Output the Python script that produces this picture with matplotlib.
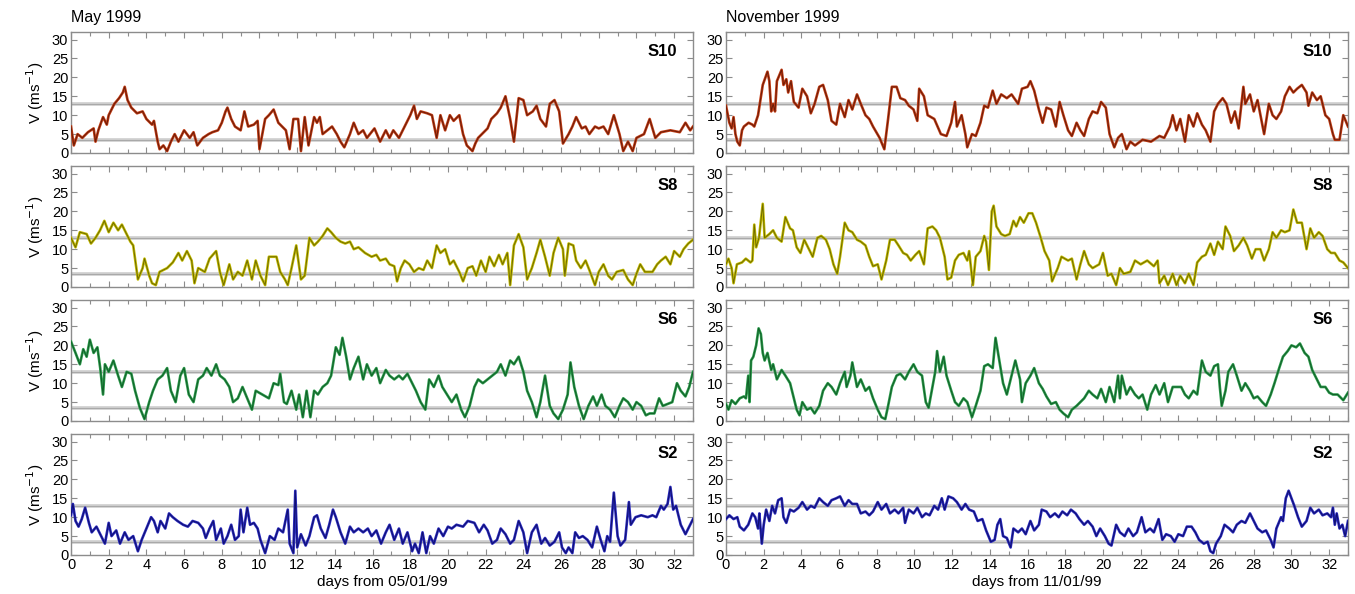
#!/usr/bin/env python3
"""Wind speed at four stations (S10, S8, S6, S2) for May and November 1999."""
import matplotlib
matplotlib.use("Agg")
import matplotlib.pyplot as plt
from matplotlib.ticker import MultipleLocator

plt.rcParams["font.family"] = ["Liberation Sans", "DejaVu Sans"]

MONTHS = ["May 1999", "November 1999"]
XLABELS = ["days from 05/01/99", "days from 11/01/99"]
STATIONS = ["S10", "S8", "S6", "S2"]
# (edge colour, darker core colour) per station
COLORS = [("#c23c14", "#6a1c08"), ("#c4bc00", "#6e6a00"),
          ("#2b9c4c", "#125e28"), ("#2a2ac0", "#10106e")]
REF_LEVELS = [3.5, 13.0]

# ---- May 1999 ---------------------------------------------------------------
may_s10_day = [0, 0.15, 0.35, 0.6, 0.9, 1.2, 1.3, 1.45, 1.7, 1.9, 2.0, 2.3, 2.55, 2.75, 2.85,
               3.0, 3.2, 3.5, 3.8, 4.0, 4.3, 4.4, 4.6, 4.7, 4.9, 5.1, 5.3, 5.5, 5.7, 6.0,
               6.3, 6.5, 6.7, 7.0, 7.3, 7.5, 7.8, 8.0, 8.2, 8.3, 8.5, 8.7, 9.0, 9.2, 9.4,
               9.7, 9.9, 10.0, 10.3, 10.5, 10.75, 11.0, 11.2, 11.4, 11.6, 11.8, 12.05, 12.2,
               12.4, 12.6, 12.9, 13.05, 13.2, 13.35, 13.6, 13.85, 14.1, 14.3, 14.5, 14.8,
               15.0, 15.25, 15.5, 15.7, 16.1, 16.4, 16.7, 16.9, 17.1, 17.4, 17.7, 18.0,
               18.2, 18.35, 18.55, 18.9, 19.15, 19.4, 19.6, 19.85, 20.1, 20.3, 20.6, 20.8,
               21.0, 21.3, 21.45, 21.6, 21.9, 22.1, 22.3, 22.6, 22.8, 23.05, 23.3, 23.5,
               23.75, 24.0, 24.2, 24.5, 24.7, 24.9, 25.2, 25.4, 25.65, 25.9, 26.1, 26.4,
               26.6, 26.8, 27.1, 27.3, 27.5, 27.8, 28.0, 28.25, 28.5, 28.8, 29.1, 29.3,
               29.55, 29.8, 30.0, 30.4, 30.7, 31.0, 31.3, 31.8, 32.3, 32.6, 32.85, 33.0]
may_s10_v = [7, 2, 5, 4, 5.5, 6.5, 3, 6, 9.5, 7.5, 10, 13, 14.5, 16, 17.5,
             14, 12, 10.5, 11, 9, 7.5, 8.5, 3, 1, 2, 0.5, 3, 5, 3, 6,
             4, 5.5, 2, 4, 5, 5.5, 6, 8, 11, 12, 9, 7, 6, 11, 7,
             7.5, 8.5, 1, 9, 10, 11.5, 8, 7, 6, 1, 9, 9, 0.5,
             9.5, 2, 9.5, 8, 9.5, 5, 6, 7, 5, 3, 1.5, 5,
             8, 5, 6, 4, 6.5, 3, 6, 4, 6, 4, 7, 10,
             12.5, 9, 11, 10.5, 10, 4, 10, 6, 10, 8.5, 10, 5,
             2, 0.5, 2.5, 4, 5.5, 6.5, 9, 10.5, 12, 15, 9, 3,
             14.5, 14, 10, 11, 12.5, 9, 7, 13, 14, 11, 2.5, 5,
             7, 9.5, 6.5, 7, 5, 7, 6.5, 7, 5, 10, 5, 0.5,
             3, 0.5, 4, 5, 9, 4, 5.5, 6, 5.5, 8, 6, 7]

may_s8_day = [0, 0.24, 0.47, 0.83, 1.06, 1.3, 1.54, 1.77, 2.0, 2.25, 2.5, 2.7, 2.95, 3.15,
              3.3, 3.55, 3.8, 3.9, 4.15, 4.3, 4.5, 4.7, 5.1, 5.4, 5.7, 5.9, 6.15, 6.4,
              6.55, 6.75, 7.1, 7.35, 7.7, 7.9, 8.1, 8.4, 8.6, 8.85, 9.1, 9.35, 9.6, 9.8,
              10.05, 10.3, 10.5, 10.9, 11.1, 11.35, 11.5, 11.7, 11.95, 12.2, 12.4, 12.65,
              12.9, 13.1, 13.35, 13.6, 13.8, 14.05, 14.3, 14.55, 14.8, 15.0, 15.25, 15.6,
              15.95, 16.2, 16.4, 16.7, 16.9, 17.15, 17.3, 17.5, 17.7, 17.95, 18.2, 18.45,
              18.7, 18.9, 19.15, 19.4, 19.6, 19.85, 20.1, 20.3, 20.6, 20.8, 21.05, 21.3,
              21.5, 21.75, 22.0, 22.2, 22.45, 22.7, 22.9, 23.15, 23.3, 23.5, 23.75, 24.0,
              24.2, 24.45, 24.7, 24.9, 25.15, 25.4, 25.6, 25.85, 26.1, 26.2, 26.4, 26.65,
              26.8, 27.05, 27.3, 27.5, 27.8, 28.0, 28.25, 28.5, 28.7, 28.95, 29.3, 29.55,
              29.8, 30.0, 30.2, 30.45, 30.85, 31.1, 31.3, 31.55, 31.8, 32.0, 32.3, 32.5,
              32.75, 33.0]
may_s8_v = [13, 10.5, 14.5, 14, 11.5, 13, 15, 17.5, 14.5, 17, 15, 16.5, 14, 12,
            11, 2, 5, 7.5, 3, 1, 0.5, 4, 5, 6.5, 9, 7, 9.5, 7,
            1, 5, 4, 7.5, 9.5, 4, 0.5, 6, 2, 4, 3, 7, 2, 7,
            3, 0.5, 8, 8, 4, 2, 0.5, 5, 11, 2, 3, 13,
            11, 12, 13.5, 15.5, 14.5, 13, 12, 11.5, 12, 10, 10.5, 9,
            8, 8.5, 7, 7.5, 6, 5.5, 1.5, 5, 7, 6, 4, 5,
            4.5, 7, 5, 11, 9, 10, 6, 7, 4, 1.5, 5, 5.5,
            3, 7, 4, 8, 5.5, 8.5, 6, 9, 0.5, 11, 14, 10.5,
            2, 5, 9, 12.5, 8, 3, 9, 13, 10, 3, 11.5, 11,
            7, 5, 7, 4.5, 0.5, 4, 6, 3, 2, 4, 4.5, 2,
            0.5, 3.5, 6, 4, 4, 6, 7, 8, 6, 9.5, 8, 10,
            11.5, 12.5]

may_s6_day = [0, 0.24, 0.47, 0.65, 0.83, 1.0, 1.2, 1.4, 1.55, 1.7, 1.8, 2.0, 2.25, 2.5,
              2.7, 2.95, 3.2, 3.4, 3.65, 3.9, 4.15, 4.35, 4.6, 4.85, 5.1, 5.3, 5.55, 5.8,
              6.0, 6.25, 6.5, 6.75, 7.0, 7.2, 7.45, 7.7, 7.9, 8.15, 8.4, 8.6, 8.85, 9.1,
              9.35, 9.6, 9.8, 10.15, 10.5, 10.75, 11.0, 11.1, 11.3, 11.45, 11.7, 11.95,
              12.1, 12.3, 12.5, 12.7, 12.9, 13.1, 13.35, 13.6, 13.8, 14.05, 14.25, 14.4,
              14.6, 14.8, 15.0, 15.25, 15.5, 15.7, 15.95, 16.2, 16.4, 16.7, 16.9, 17.15,
              17.4, 17.6, 17.85, 18.1, 18.3, 18.55, 18.8, 19.0, 19.25, 19.5, 19.7, 19.95,
              20.2, 20.45, 20.7, 20.9, 21.15, 21.4, 21.6, 21.85, 22.1, 22.35, 22.6, 22.8,
              23.05, 23.3, 23.5, 23.75, 24.0, 24.2, 24.45, 24.7, 24.9, 25.15, 25.4, 25.6,
              25.85, 26.1, 26.35, 26.5, 26.7, 26.95, 27.2, 27.45, 27.7, 27.9, 28.15, 28.35,
              28.6, 28.85, 29.1, 29.3, 29.55, 29.8, 30.0, 30.25, 30.5, 30.7, 30.95, 31.2,
              31.4, 31.65, 31.9, 32.15, 32.35, 32.6, 32.8, 33.0]
may_s6_v = [21, 18, 15, 19, 17, 21.5, 18, 19.5, 14, 7, 15, 13, 16, 12,
            9, 13, 12.5, 8, 3.5, 0.5, 5, 8, 11, 12, 14, 8, 5, 12,
            14, 7, 5, 11, 12, 14, 12, 15, 12, 11, 9, 5, 6, 9,
            6, 3, 8, 7, 6, 10, 9.5, 12.5, 5, 4.5, 8, 3,
            7, 1, 8, 1, 8, 7, 9, 10, 12, 19.5, 17.5, 22,
            17, 11, 14, 17, 11, 15, 12, 14, 10, 13.5, 12, 11,
            12, 11, 12.5, 10, 8, 5, 3, 11, 9, 12, 9, 7,
            5, 7, 3, 1, 4, 9, 11, 10, 11, 12, 13, 15,
            12, 16, 15, 17, 13, 8, 5, 1, 5, 12, 4, 2,
            0.5, 3, 7, 15.5, 9, 4, 0.5, 4, 6.5, 4, 7, 4,
            3, 1, 4, 6, 5, 3, 5, 4, 1.5, 2, 2, 6,
            4, 4.5, 5, 10, 8, 6.5, 9, 13]

may_s2_day = [0, 0.1, 0.24, 0.4, 0.57, 0.75, 0.95, 1.1, 1.35, 1.6, 1.8, 2.0, 2.15, 2.4, 2.6,
              2.85, 3.05, 3.3, 3.55, 3.75, 4.0, 4.25, 4.4, 4.6, 4.75, 5.0, 5.2, 5.4, 5.65,
              5.95, 6.2, 6.45, 6.75, 7.0, 7.15, 7.35, 7.55, 7.7, 7.95, 8.1, 8.3, 8.5, 8.7,
              8.9, 9.0, 9.15, 9.35, 9.5, 9.7, 9.9, 10.05, 10.3, 10.55, 10.8, 11.0, 11.25,
              11.5, 11.6, 11.8, 11.9, 12.0, 12.2, 12.45, 12.65, 12.9, 13.05, 13.25, 13.5,
              13.7, 13.9, 14.05, 14.3, 14.55, 14.8, 15.0, 15.25, 15.5, 15.75, 15.95, 16.2,
              16.45, 16.7, 16.9, 17.15, 17.4, 17.6, 17.85, 18.1, 18.25, 18.45, 18.65, 18.85,
              19.05, 19.25, 19.5, 19.75, 20.0, 20.2, 20.45, 20.8, 21.05, 21.4, 21.65, 21.9,
              22.1, 22.35, 22.6, 22.8, 23.05, 23.3, 23.5, 23.75, 24.0, 24.2, 24.45, 24.7,
              24.95, 25.15, 25.4, 25.65, 25.9, 26.05, 26.25, 26.4, 26.6, 26.75, 26.95, 27.15,
              27.4, 27.65, 27.9, 28.1, 28.3, 28.45, 28.6, 28.8, 29.0, 29.15, 29.4, 29.6,
              29.7, 29.95, 30.25, 30.6, 30.85, 31.05, 31.3, 31.45, 31.65, 31.8, 31.95, 32.1,
              32.35, 32.6, 32.85, 33.0]
may_s2_v = [10.5, 13.5, 9, 7.5, 9.5, 12.5, 8.5, 6, 7.5, 5, 3, 8.5, 5, 6.5, 3,
            6, 4, 5, 1, 4, 7, 10, 9, 6, 9, 7, 11, 10, 9,
            8, 7.5, 9, 8.5, 7, 4.5, 7, 9, 4, 7, 3, 5, 8, 4,
            5, 12, 6, 12.5, 8, 8.5, 7, 4, 0.5, 5, 4, 7, 6,
            12, 3, 0.5, 17, 2, 5.5, 2.5, 5, 10, 10.5, 7, 4.5,
            8, 12, 10, 6, 3, 7.5, 6, 7, 6, 7, 5, 6.5,
            3, 6, 8, 4, 7, 3, 6, 1, 3, 0.5, 6, 0.5,
            5, 3, 7, 5, 7.5, 7, 8, 7.5, 9, 8.5, 6, 8,
            6.5, 3, 4, 7, 5.5, 3, 4, 9, 6, 0.5, 6, 8,
            3, 4.5, 2.5, 3.5, 6, 2, 0.5, 2, 0.5, 6, 4.5, 5,
            4, 2, 7.5, 4, 1, 5, 3.5, 16.5, 5, 2.5, 4, 14,
            8, 10, 10.5, 10, 10.5, 10, 13, 12, 13.5, 18, 12, 13,
            8, 5.5, 8, 9.5]

# ---- November 1999 ----------------------------------------------------------
nov_s10_day = [0, 0.18, 0.3, 0.4, 0.5, 0.6, 0.73, 0.85, 0.95, 1.2, 1.4, 1.5, 1.7, 1.95, 2.2,
               2.3, 2.4, 2.5, 2.6, 2.7, 2.95, 3.05, 3.2, 3.3, 3.45, 3.6, 3.85, 4.05, 4.3,
               4.5, 4.7, 4.95, 5.15, 5.4, 5.6, 5.85, 6.05, 6.3, 6.5, 6.7, 6.95, 7.15, 7.4,
               7.6, 7.8, 8.15, 8.4, 8.6, 8.8, 9.05, 9.25, 9.5, 9.7, 9.95, 10.15, 10.25,
               10.5, 10.7, 11.05, 11.4, 11.7, 11.95, 12.15, 12.25, 12.5, 12.7, 12.8, 13.05,
               13.25, 13.5, 13.7, 13.9, 14.15, 14.35, 14.6, 14.9, 15.15, 15.5, 15.7, 16.0,
               16.15, 16.35, 16.6, 16.8, 17.0, 17.25, 17.5, 17.7, 17.9, 18.15, 18.35, 18.6,
               18.8, 19.0, 19.25, 19.45, 19.7, 19.9, 20.15, 20.35, 20.6, 20.8, 21.0, 21.25,
               21.45, 21.7, 22.1, 22.55, 23.0, 23.25, 23.55, 23.7, 23.9, 24.1, 24.35, 24.55,
               24.8, 25.0, 25.25, 25.45, 25.7, 25.9, 26.1, 26.35, 26.55, 26.8, 27.0, 27.2,
               27.45, 27.55, 27.8, 28.0, 28.2, 28.55, 28.8, 29.0, 29.2, 29.45, 29.65, 29.9,
               30.1, 30.3, 30.55, 30.8, 30.9, 31.1, 31.35, 31.55, 31.8, 32.0, 32.2, 32.3,
               32.55, 32.75, 33.0]
nov_s10_v = [12.5, 8, 6.5, 9.5, 5, 3, 2, 6, 7, 8, 7.5, 7, 10, 18, 21.5,
             19, 11, 13, 11, 19, 22, 18, 19.5, 16, 19, 13.5, 12, 17, 15,
             10.5, 13, 17.5, 18, 14, 8.5, 7.5, 13, 9.5, 14, 11.5, 15.5, 13, 10,
             9, 7, 4, 1, 9, 17.5, 17.5, 14.5, 14, 12.5, 11.5, 8.5, 17,
             15, 10, 9, 5, 4.5, 8, 13.5, 7, 10, 5, 1.5, 5,
             4.5, 8, 12.5, 12, 16.5, 13, 15.5, 14.5, 15.5, 13, 17, 17.5,
             19, 16.5, 11.5, 8, 12, 11.5, 7, 13.5, 10, 6, 4.5, 8,
             6, 4.5, 9, 11, 10.5, 13.5, 12, 5, 1.5, 4, 5, 1,
             3, 2, 3.5, 3, 4.5, 4, 7, 10, 6, 9, 3, 10,
             7, 10.5, 7.5, 6, 3, 11, 13, 14.5, 13, 8, 11, 6.5,
             17.5, 13, 15.5, 11, 14, 5, 13, 10, 9, 11, 15, 17.5,
             16, 17, 18, 16, 12.5, 16, 14, 15, 10, 9, 5, 3.5,
             3.5, 10, 7]

nov_s8_day = [0, 0.13, 0.3, 0.4, 0.58, 0.85, 1.05, 1.3, 1.4, 1.5, 1.6, 1.75, 1.95, 2.05,
              2.3, 2.5, 2.7, 2.95, 3.15, 3.4, 3.55, 3.75, 3.95, 4.15, 4.4, 4.6, 4.85, 5.05,
              5.3, 5.5, 5.7, 5.9, 6.05, 6.3, 6.5, 6.7, 6.95, 7.15, 7.4, 7.6, 7.8, 8.05,
              8.25, 8.5, 8.7, 8.95, 9.15, 9.4, 9.6, 9.8, 10.05, 10.25, 10.5, 10.7, 10.95,
              11.15, 11.35, 11.6, 11.75, 11.95, 12.15, 12.35, 12.6, 12.8, 12.9, 13.1,
              13.25, 13.5, 13.7, 13.8, 13.95, 14.1, 14.2, 14.35, 14.6, 14.8, 15.05, 15.25,
              15.4, 15.6, 15.8, 16.05, 16.25, 16.45, 16.7, 16.9, 17.15, 17.3, 17.6, 17.8,
              18.15, 18.35, 18.6, 18.8, 19.0, 19.25, 19.45, 19.8, 20.0, 20.25, 20.45, 20.7,
              20.9, 21.1, 21.45, 21.7, 22.0, 22.35, 22.7, 22.9, 23.0, 23.25, 23.45, 23.7,
              23.9, 24.1, 24.35, 24.55, 24.8, 25.0, 25.25, 25.45, 25.7, 25.9, 26.1, 26.35,
              26.5, 26.75, 26.95, 27.2, 27.45, 27.65, 27.9, 28.1, 28.35, 28.55, 28.8, 29.0,
              29.2, 29.45, 29.65, 29.9, 30.1, 30.3, 30.55, 30.8, 31.0, 31.2, 31.45, 31.65,
              31.9, 32.1, 32.3, 32.55, 32.75, 33.0]
nov_s8_v = [6, 7.5, 5, 1, 6, 6.5, 7.5, 6.5, 7, 16.5, 10.5, 13, 22, 13,
            14, 15, 13, 12, 18.5, 15.5, 15, 10.5, 9, 12.5, 10, 8, 13, 13.5,
            12.5, 10, 6, 3.5, 8, 17, 15, 14.5, 12.5, 12, 11, 8, 5.5, 6,
            2, 7, 12.5, 12.5, 11, 9, 8.5, 7, 8.5, 9.5, 6, 15.5, 16,
            15, 13, 8, 2, 2.5, 7, 8.5, 9, 7, 9.5, 0.5,
            8, 9.5, 13.5, 12, 4.5, 20, 21.5, 16, 14, 13.5, 14, 17.5,
            16, 18.5, 17, 19.5, 19.5, 17, 13, 9.5, 7, 1.5, 5, 8,
            7, 7.5, 2, 6, 9.5, 6, 5, 6, 9, 3, 3.5, 0.5,
            5, 3.5, 4, 7, 6, 7, 5.5, 7, 1, 3, 0.5, 3.5,
            0.5, 3, 1, 3.5, 0.5, 6.5, 8, 8.5, 11.5, 8.5, 12, 10,
            16, 13.5, 9.5, 11, 13, 11, 7.5, 10, 10, 7, 10, 14.5,
            13, 15, 14.5, 15, 20.5, 17, 17, 10, 15.5, 13, 14.5, 13.5,
            10, 9, 9, 7, 6.5, 5]

nov_s6_day = [0, 0.13, 0.3, 0.5, 0.73, 0.95, 1.06, 1.18, 1.25, 1.33, 1.45, 1.6, 1.73, 1.85,
              1.95, 2.05, 2.2, 2.4, 2.5, 2.7, 2.95, 3.15, 3.4, 3.6, 3.75, 3.9, 4.05, 4.3,
              4.5, 4.7, 4.95, 5.15, 5.4, 5.6, 5.85, 6.05, 6.3, 6.4, 6.6, 6.7, 6.95, 7.15,
              7.4, 7.6, 7.8, 8.05, 8.25, 8.45, 8.6, 8.8, 9.05, 9.25, 9.5, 9.7, 9.95, 10.15,
              10.4, 10.6, 10.75, 10.95, 11.1, 11.2, 11.35, 11.55, 11.7, 11.95, 12.15, 12.35,
              12.6, 12.8, 13.05, 13.25, 13.5, 13.7, 13.9, 14.15, 14.3, 14.5, 14.7, 14.9,
              15.15, 15.35, 15.6, 15.7, 15.9, 16.15, 16.35, 16.6, 16.8, 17.0, 17.25, 17.5,
              17.7, 17.9, 18.15, 18.35, 18.6, 18.8, 19.0, 19.25, 19.45, 19.7, 19.9, 20.15,
              20.35, 20.6, 20.8, 20.9, 21.0, 21.25, 21.45, 21.7, 21.9, 22.1, 22.35, 22.55,
              22.8, 23.0, 23.25, 23.45, 23.7, 23.9, 24.15, 24.35, 24.55, 24.8, 25.0, 25.25,
              25.45, 25.7, 25.9, 26.1, 26.2, 26.3, 26.5, 26.65, 26.9, 27.1, 27.35, 27.55,
              27.8, 28.0, 28.2, 28.45, 28.65, 28.9, 29.1, 29.35, 29.55, 29.8, 30.0, 30.25,
              30.45, 30.7, 30.9, 31.1, 31.35, 31.55, 31.8, 32.0, 32.2, 32.45, 32.65, 32.75,
              33.0]
nov_s6_v = [4.5, 3, 5.5, 4.5, 6, 6.5, 6, 12, 5, 16, 17, 20, 24.5, 23,
            18, 16, 18, 13.5, 15, 11, 13.5, 12, 10, 6, 3, 1.5, 5, 3,
            3.5, 2, 4, 8, 10, 9, 7, 10, 13, 9, 12, 15.5, 9, 11,
            8, 9, 6, 3, 1, 0.5, 4, 9, 12, 12.5, 11, 13, 15, 13,
            12, 5, 3.5, 9, 13, 18.5, 13, 17, 12, 8, 5, 4,
            6, 5, 1, 4, 8, 14.5, 15, 14, 22, 16, 10, 7,
            12, 16, 11, 5, 10, 12, 14, 10, 8.5, 6.5, 4.5, 5,
            3, 2, 1, 3, 4, 5, 6, 8, 7, 6, 8.5, 5,
            9, 5, 12, 6, 12, 7, 9, 7, 6, 7, 3, 7,
            9.5, 7, 10, 5, 9, 9, 9, 7, 6, 8, 7, 16,
            13, 12, 14.5, 15, 9, 4, 8, 13, 15, 12, 8, 10,
            8, 6, 6.5, 5, 4, 7, 10, 14, 17, 18.5, 20, 19.5,
            20.5, 18, 17, 13.5, 11, 9, 9, 7.5, 7, 7, 6, 5.5,
            7.5]

nov_s2_day = [0, 0.18, 0.4, 0.6, 0.73, 0.95, 1.18, 1.4, 1.55, 1.7, 1.77, 1.9, 2.0, 2.13,
              2.3, 2.45, 2.6, 2.77, 2.95, 3.05, 3.2, 3.4, 3.6, 3.85, 4.05, 4.3, 4.5, 4.7,
              4.95, 5.15, 5.4, 5.6, 5.85, 6.05, 6.3, 6.5, 6.7, 6.95, 7.15, 7.4, 7.6, 7.8,
              8.05, 8.25, 8.5, 8.7, 8.95, 9.15, 9.4, 9.5, 9.7, 9.95, 10.15, 10.4, 10.6,
              10.8, 11.05, 11.25, 11.45, 11.6, 11.8, 12.05, 12.25, 12.5, 12.7, 12.9, 13.15,
              13.35, 13.6, 13.8, 14.05, 14.25, 14.4, 14.55, 14.7, 14.9, 15.1, 15.25, 15.5,
              15.7, 15.9, 16.15, 16.35, 16.6, 16.75, 17.0, 17.2, 17.45, 17.65, 17.85, 18.1,
              18.3, 18.55, 18.75, 19.0, 19.2, 19.45, 19.65, 19.85, 20.1, 20.3, 20.45, 20.7,
              20.9, 21.15, 21.35, 21.6, 21.8, 22.05, 22.25, 22.5, 22.7, 22.95, 23.15, 23.35,
              23.6, 23.8, 24.0, 24.25, 24.45, 24.7, 24.9, 25.1, 25.35, 25.55, 25.7, 25.85,
              26.0, 26.25, 26.45, 26.7, 26.9, 27.1, 27.35, 27.55, 27.8, 28.0, 28.2, 28.45,
              28.65, 28.9, 29.05, 29.2, 29.45, 29.55, 29.7, 29.85, 30.0, 30.15, 30.35, 30.55,
              30.8, 31.0, 31.2, 31.45, 31.65, 31.9, 32.1, 32.2, 32.3, 32.4, 32.55, 32.7,
              32.85, 33.0]
nov_s2_v = [9.5, 10.5, 9.5, 10, 7.5, 6.5, 8, 11, 10, 7, 11, 3, 8, 12,
            9, 13, 11, 14.5, 15, 10, 8.5, 12, 11.5, 12.5, 14, 12, 13, 12.5,
            15, 14, 13, 14.5, 15, 15.5, 13, 14.5, 13.5, 13.5, 11, 11.5, 10.5, 11.5,
            14, 12, 13.5, 11, 12, 11, 12.5, 8.5, 12, 11, 12.5, 10, 11,
            10.5, 13, 12, 15, 12, 15.5, 15, 14, 12, 13.5, 12, 11.5,
            9, 9.5, 6.5, 3.5, 4, 8, 9.5, 5, 4.5, 2, 7, 6,
            7, 5.5, 9, 6.5, 8, 12, 11.5, 10, 11, 10, 11.5, 10.5,
            12, 11, 9.5, 8, 9, 7.5, 5, 7, 5, 3, 2.5, 8,
            6, 5, 7, 5, 6, 10, 6, 7, 6, 9.5, 4, 5.5,
            5, 3.5, 5.5, 5, 7.5, 7.5, 6, 4, 3, 3.5, 1, 0.5,
            3, 5, 8, 7, 6, 8, 9, 8.5, 11, 9, 7, 6,
            6.5, 4, 2, 7, 10, 9, 15, 17, 15, 13, 10, 7.5,
            9, 12.5, 11, 12, 10.5, 11, 10, 12.5, 8, 11, 7, 8,
            5, 9]

SERIES = [
    [(may_s10_day, may_s10_v), (nov_s10_day, nov_s10_v)],
    [(may_s8_day, may_s8_v), (nov_s8_day, nov_s8_v)],
    [(may_s6_day, may_s6_v), (nov_s6_day, nov_s6_v)],
    [(may_s2_day, may_s2_v), (nov_s2_day, nov_s2_v)],
]

W, H = 1355, 594
FRAME = "#8c8c8c"

fig = plt.figure(figsize=(W / 100, H / 100), dpi=100, facecolor="white")

col_left = [71, 726]     # px
col_width = 622
row_top = [32, 166, 300, 434]
row_height = 121

for r, station in enumerate(STATIONS):
    for c in range(2):
        rect = [col_left[c] / W, 1 - (row_top[r] + row_height) / H,
                col_width / W, row_height / H]
        ax = fig.add_axes(rect)
        days, vals = SERIES[r][c]

        for lev in REF_LEVELS:
            ax.axhline(lev, color="#cdcdcd", lw=2.6, zorder=1)
            ax.axhline(lev, color="#a8a8a8", lw=0.7, zorder=1)
        edge, core = COLORS[r]
        ax.plot(days, vals, color=edge, lw=1.9, zorder=3)
        ax.plot(days, vals, color=core, lw=0.7, zorder=4)

        ax.set_xlim(0, 33)
        ax.set_ylim(0, 32)
        ax.xaxis.set_major_locator(MultipleLocator(2))
        ax.xaxis.set_minor_locator(MultipleLocator(1))
        ax.yaxis.set_major_locator(MultipleLocator(5))
        ax.tick_params(which="both", direction="in", top=True, right=True,
                       color=FRAME, labelsize=10.5, pad=2)
        ax.tick_params(which="major", length=4, width=0.8)
        ax.tick_params(which="minor", length=3, width=0.8)
        for sp in ax.spines.values():
            sp.set_color(FRAME)
            sp.set_linewidth(1.0)

        if r < 3:
            ax.tick_params(labelbottom=False)
        else:
            ax.set_xlabel(XLABELS[c], fontsize=11, labelpad=2)
        if c == 0:
            ax.set_ylabel("V (ms$^{-1}$)", fontsize=11, labelpad=4)

        ax.text(0.975, 0.84, station, transform=ax.transAxes, ha="right", va="center",
                fontsize=12, fontweight="bold")
        if r == 0:
            ax.text(0.0, 1.06, MONTHS[c], transform=ax.transAxes, ha="left",
                    va="bottom", fontsize=11.5)

fig.savefig("out.png", dpi=100, facecolor="white")
